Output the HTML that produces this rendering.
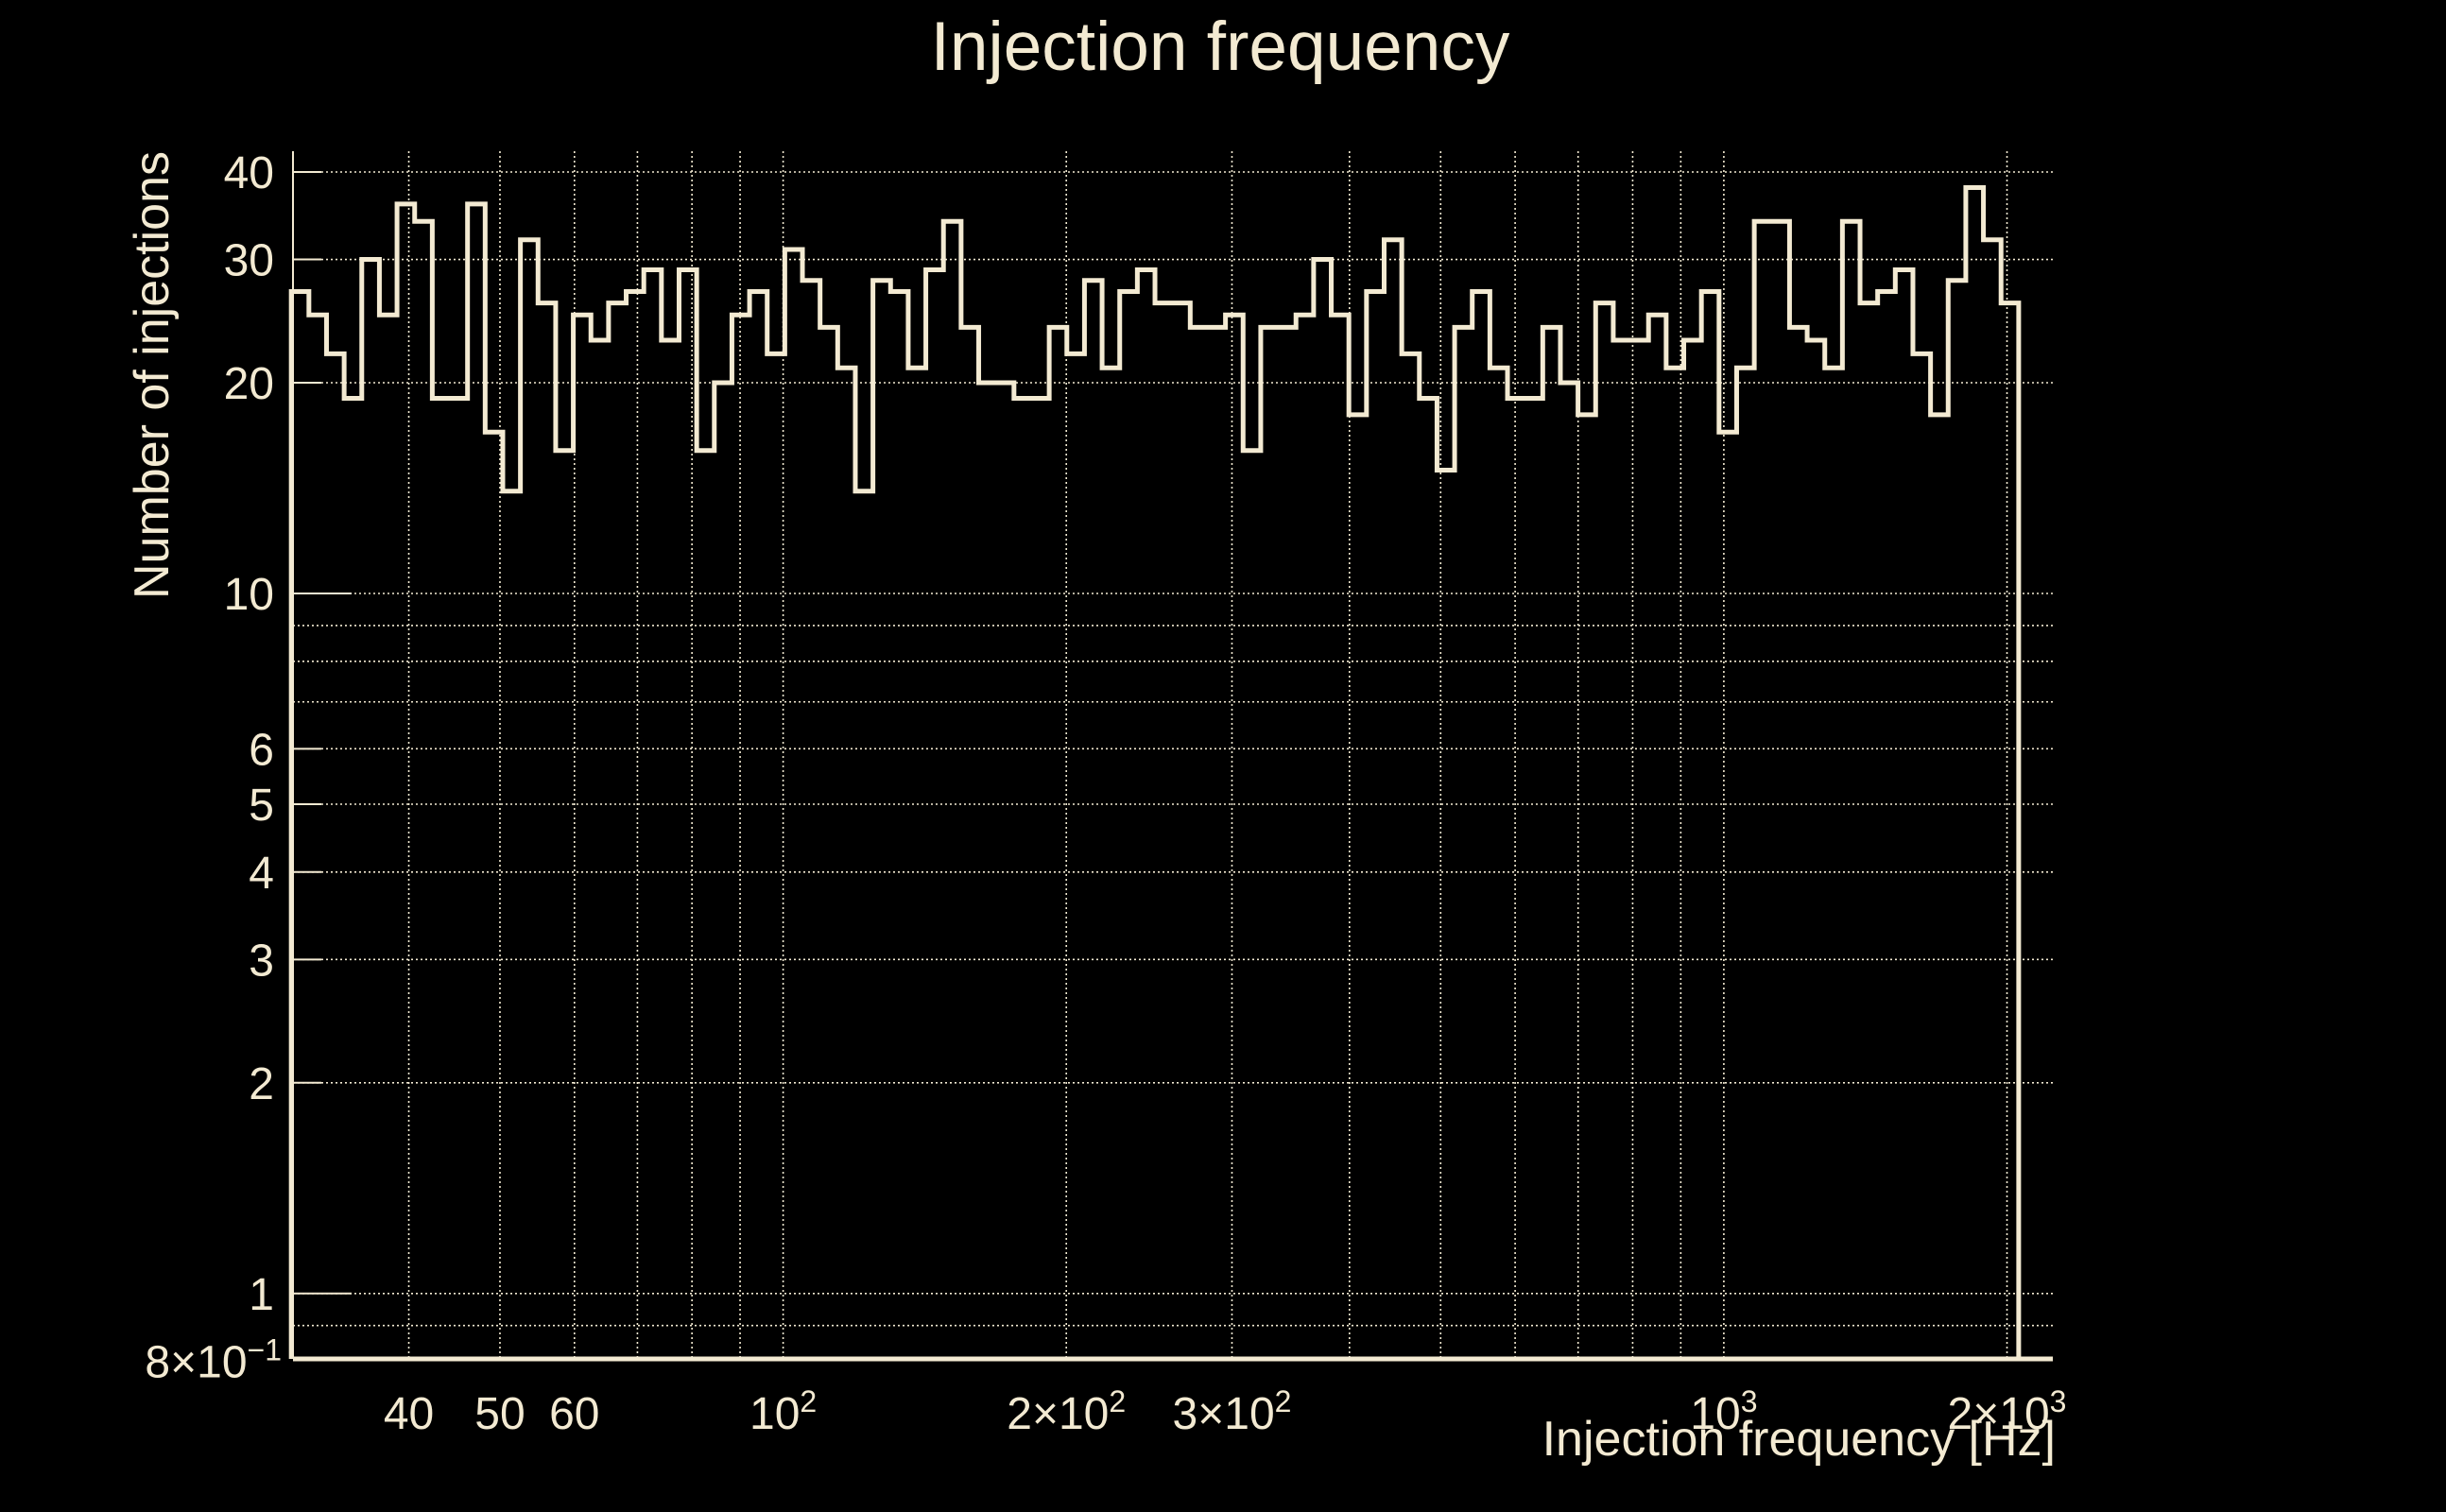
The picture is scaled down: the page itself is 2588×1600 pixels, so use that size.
<!DOCTYPE html>
<html><head><meta charset="utf-8"><style>
html,body{margin:0;padding:0;background:#000;}
svg{display:block;}
text{font-family:"Liberation Sans",sans-serif;fill:#f3ead2;}
</style></head><body>
<svg id="chart" width="2588" height="1600" viewBox="0 0 2588 1600" xmlns="http://www.w3.org/2000/svg">
<rect width="2588" height="1600" fill="#000"/>
<text x="1291" y="74" font-size="73" text-anchor="middle">Injection frequency</text>
<g id="grid"></g>
<g id="axes"></g>
<g id="hist"></g>
<text x="2175" y="1540" font-size="52" text-anchor="end">Injection frequency [Hz]</text>
<text transform="translate(178,160) rotate(-90)" font-size="52" text-anchor="end">Number of injections</text>
</svg>
<script>
const counts = [27,25,22,19,30,25,36,34,19,19,36,17,14,32,26,16,25,23,26,27,29,23,29,16,20,25,27,22,31,28,24,21,14,
28,27,21,29,34,24,20,20,19,19,24,22,28,21,27,29,26,26,24,24,25,16,24,24,25,30,25,18,27,32,22,19,15,
24,27,21,19,19,24,20,18,26,23,23,25,21,23,27,17,21,34,34,24,23,21,34,26,27,29,22,18,28,38,32,26];
const binRange = [30, 2058];
const yTicks = [1,2,3,4,5,6,10,20,30,40];
const yTickLabels = ["1","2","3","4","5","6","10","20","30","40"];
const yGrid = [0.9,1,2,3,4,5,6,7,8,9,10,20,30,40];
const xGrid = [40,50,60,70,80,90,100,200,300,400,500,600,700,800,900,1000,2000];
const xTicks = [40,50,60,100,200,300,1000,2000];
const xTickMain = ["40","50","60","10","2×10","3×10","10","2×10"];
const xTickSup = ["","","","2","2","2","3","3"];

const NS = "http://www.w3.org/2000/svg";
const X0 = 310, X1 = 2172, Y0 = 160, Y1 = 1438;
const xs = f => 828.6 + 995.3 * Math.log10(f / 100);
const ys = v => 1368.8 - 740.8 * Math.log10(v);
const C = "#f3ead2";
function mk(tag, parent, attrs){const e=document.createElementNS(NS,tag);for(const k in attrs)e.setAttribute(k,attrs[k]);parent.appendChild(e);return e;}
const grid = document.getElementById('grid'), axes = document.getElementById('axes'), hist = document.getElementById('hist');

yGrid.forEach(v=>{
  const l = mk('line', grid, {x1:X0,x2:X1,y1:ys(v),y2:ys(v),stroke:C,'stroke-width':1.6,'stroke-dasharray':'2,3'});
  
  
});
xGrid.forEach(f=>{
  const l = mk('line', grid, {x1:xs(f),x2:xs(f),y1:Y0,y2:Y1,stroke:C,'stroke-width':1.6,'stroke-dasharray':'2,3'});
  
  
});
const ya = mk('line', axes, {x1:X0,x2:X0,y1:Y0,y2:Y1,stroke:C,'stroke-width':2});


const xa = mk('line', axes, {x1:X0,x2:X1,y1:Y1,y2:Y1,stroke:C,'stroke-width':5});


yTicks.forEach((v,i)=>{
  const major = (v===1||v===10);
  const t = mk('line', axes, {x1:X0,x2:X0+(major?62:30),y1:ys(v),y2:ys(v),stroke:C,'stroke-width':2});
  
  
  const tx = mk('text', axes, {x:290,y:ys(v)+17,'font-size':48,'text-anchor':'end'});
  tx.textContent = yTickLabels[i];
  
  
});
const bl = mk('text', axes, {x:298,y:ys(0.8)+17,'font-size':48,'text-anchor':'end'});


bl.appendChild(document.createTextNode('8×10'));
const bs = document.createElementNS(NS,'tspan');
bs.setAttribute('dy','-18'); bs.setAttribute('font-size','32');
bs.textContent = '−1';
bl.appendChild(bs);

xTicks.forEach((f,i)=>{
  const tx = mk('text', axes, {x:xs(f),y:1512,'font-size':48,'text-anchor':'middle'});
  
  
  tx.appendChild(document.createTextNode(xTickMain[i]));
  if (xTickSup[i]) {
    const s = document.createElementNS(NS,'tspan');
    s.setAttribute('dy','-18'); s.setAttribute('font-size','32');
    s.textContent = xTickSup[i];
    tx.appendChild(s);
  }
});
const n = counts.length;
const la = Math.log10(binRange[0]), lb = Math.log10(binRange[1]);
const edge = i => xs(Math.pow(10, la + (lb-la)*i/n));
let d = `M${edge(0)},${Y1} `;
counts.forEach((c,i)=>{ d += `L${edge(i)},${ys(c)} L${edge(i+1)},${ys(c)} `; });
d += `L${edge(n)},${Y1}`;
const p = mk('path', hist, {d:d,fill:'none',stroke:C,'stroke-width':5,'stroke-linejoin':'miter'});


</script>
</body></html>
